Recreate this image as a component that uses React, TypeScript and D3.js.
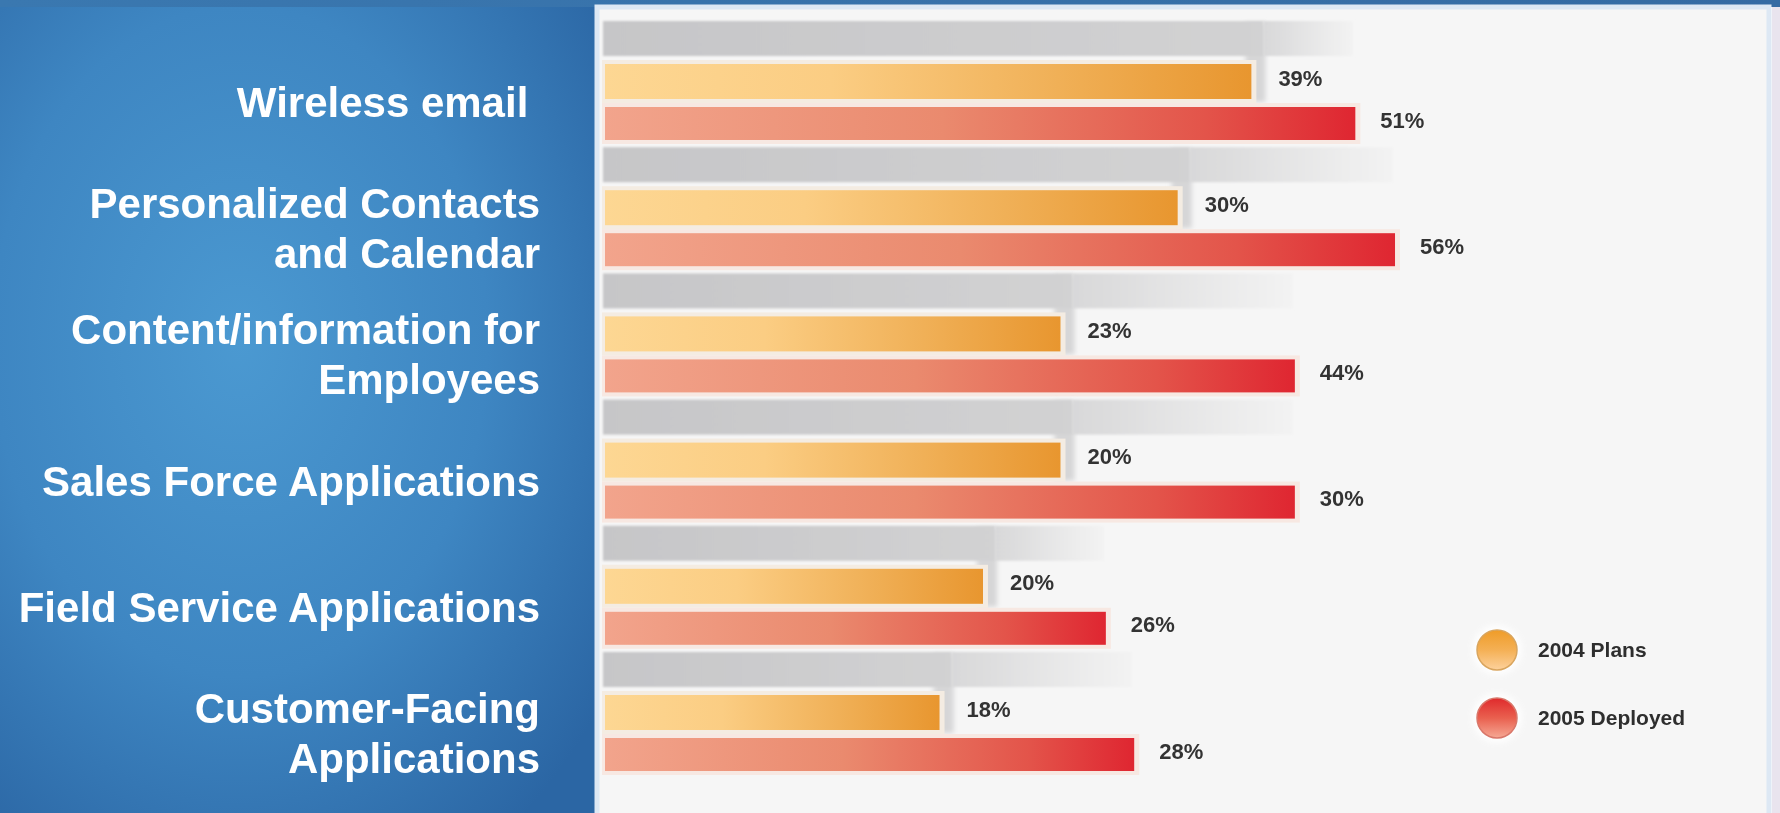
import React from "react";
import * as d3 from "d3";

// ---------- data ----------
const categories = [
  "Wireless email ",
  "Personalized Contacts\nand Calendar",
  "Content/information for\nEmployees",
  "Sales Force Applications",
  "Field Service Applications",
  "Customer-Facing\nApplications",
];
const seriesNames = ["2004 Plans", "2005 Deployed"];
// printed figures
const plans2004Values = [39, 30, 23, 20, 20, 18];
const deployed2005Values = [51, 56, 44, 30, 26, 28];
// bar extents as drawn in the original (its bars are not to the printed scale)
const plans2004Bars = [34.2, 30.3, 24.1, 24.1, 20.0, 17.7];
const deployed2005Bars = [39.7, 41.8, 36.5, 36.5, 26.5, 28.0];

const W = 1780;
const H = 813;
const FONT = "'Liberation Sans', Arial, Helvetica, sans-serif";

export default function App() {
  const x = d3.scaleLinear().domain([0, 60]).range([603, 603 + 60 * 18.9]);
  const y = d3.scalePoint<string>().domain(categories).range([64, 695]);

  const orangeH = 35;
  const gap = 8;
  const redH = 33;
  const labelRight = 540;
  const lineH = 50;

  return (
    <div style={{ position: "fixed", left: 0, top: 0, width: W, height: H }}>
      <svg width={W} height={H} viewBox={`0 0 ${W} ${H}`} style={{ display: "block" }}>
        <defs>
          <radialGradient id="blueBg" cx="40%" cy="42%" r="75%">
            <stop offset="0" stopColor="#4b99d1" />
            <stop offset="0.55" stopColor="#3e86c2" />
            <stop offset="1" stopColor="#2b66a4" />
          </radialGradient>
          <linearGradient id="topStrip" x1="0" x2="1" y1="0" y2="0">
            <stop offset="0" stopColor="#3a78b0" />
            <stop offset="1" stopColor="#356ba3" />
          </linearGradient>
          <linearGradient id="orangeGrad" x1="0" x2="1" y1="0" y2="0">
            <stop offset="0" stopColor="#fdd793" />
            <stop offset="0.35" stopColor="#fbcd83" />
            <stop offset="0.7" stopColor="#f0b057" />
            <stop offset="1" stopColor="#e8962f" />
          </linearGradient>
          <linearGradient id="redGrad" x1="0" x2="1" y1="0" y2="0">
            <stop offset="0" stopColor="#f2a48c" />
            <stop offset="0.45" stopColor="#ea8a6e" />
            <stop offset="0.8" stopColor="#e3544a" />
            <stop offset="1" stopColor="#df2631" />
          </linearGradient>
          <linearGradient id="bandGrad" x1="0" x2="1" y1="0" y2="0">
            <stop offset="0" stopColor="#c6c6c8" />
            <stop offset="1" stopColor="#d2d2d3" />
          </linearGradient>
          <linearGradient id="bandFade" x1="0" x2="1" y1="0" y2="0">
            <stop offset="0" stopColor="#d8d8d9" />
            <stop offset="1" stopColor="#f3f3f3" />
          </linearGradient>
          <linearGradient id="legOrange" x1="0" x2="0" y1="0" y2="1">
            <stop offset="0" stopColor="#ef9c28" />
            <stop offset="0.5" stopColor="#f4b055" />
            <stop offset="1" stopColor="#fdd19c" />
          </linearGradient>
          <linearGradient id="legRed" x1="0" x2="0" y1="0" y2="1">
            <stop offset="0" stopColor="#df2a2c" />
            <stop offset="0.5" stopColor="#e9604f" />
            <stop offset="1" stopColor="#f6a894" />
          </linearGradient>
          <filter id="soft" x="-50%" y="-50%" width="200%" height="200%">
            <feGaussianBlur stdDeviation="2.5" />
          </filter>
          <filter id="softer" x="-10%" y="-50%" width="120%" height="200%">
            <feGaussianBlur stdDeviation="1.2" />
          </filter>
          <filter id="glow" x="-50%" y="-50%" width="200%" height="200%">
            <feGaussianBlur stdDeviation="3" />
          </filter>
        </defs>

        {/* backgrounds */}
        <rect x={0} y={0} width={600} height={H} fill="url(#blueBg)" />
        <rect x={0} y={0} width={W} height={7} fill="url(#topStrip)" />
        <rect x={597} y={7} width={1172} height={H} fill="#f6f6f6" stroke="#dde8f4" strokeWidth={5} />
        <rect x={1772} y={7} width={8} height={H} fill="#e9e4ee" />

        {/* groups */}
        {categories.map((cat, i) => {
          const top = y(cat) as number;
          const oEnd = x(plans2004Bars[i]);
          const rEnd = x(deployed2005Bars[i]);
          const rTop = top + orangeH + gap;
          const x0 = x(0);
          const bandTop = top - 43;
          const bandH = 35;
          return (
            <g key={cat}>
              {/* shelf / shadow */}
              <rect
                x={oEnd - 4}
                y={bandTop + 2}
                width={20}
                height={orangeH + 44}
                fill="#d6d6d7"
                filter="url(#soft)"
              />
              <rect
                x={x0}
                y={bandTop}
                width={oEnd + 14 - x0}
                height={bandH}
                fill="url(#bandGrad)"
                filter="url(#softer)"
              />
              {rEnd > oEnd + 14 && (
                <rect
                  x={oEnd + 14}
                  y={bandTop}
                  width={rEnd - oEnd - 14}
                  height={bandH}
                  fill="url(#bandFade)"
                  filter="url(#softer)"
                />
              )}
              {/* orange bar */}
              <rect x={x0 - 1} y={top - 4} width={oEnd - x0 + 8} height={orangeH + 8} fill="#f4ece2" />
              <rect x={x0 + 2} y={top} width={oEnd - x0} height={orangeH} fill="url(#orangeGrad)" />
              {/* red bar */}
              <rect x={x0 - 1} y={rTop - 4} width={rEnd - x0 + 8} height={redH + 8} fill="#f7e8e2" />
              <rect x={x0 + 2} y={rTop} width={rEnd - x0} height={redH} fill="url(#redGrad)" />
              {/* value labels */}
              <text
                x={oEnd + 29}
                y={top + orangeH / 2 + 4}
                fontFamily={FONT}
                fontWeight="bold"
                fontSize={22}
                fill="#333"
              >
                {plans2004Values[i]}%
              </text>
              <text
                x={rEnd + 27}
                y={rTop + redH / 2 + 4}
                fontFamily={FONT}
                fontWeight="bold"
                fontSize={22}
                fill="#333"
              >
                {deployed2005Values[i]}%
              </text>
              {/* category label */}
              {cat.split("\n").map((line, j, arr) => {
                const center = top + 38;
                const by = center + 15 + (j - (arr.length - 1) / 2) * lineH;
                return (
                  <text
                    key={j}
                    x={labelRight}
                    y={by}
                    textAnchor="end"
                    fontFamily={FONT}
                    fontWeight="bold"
                    fontSize={42}
                    fill="#ffffff"
                    style={{ whiteSpace: "pre" }}
                  >
                    {line}
                  </text>
                );
              })}
            </g>
          );
        })}

        {/* legend */}
        {seriesNames.map((name, i) => {
          const cy = 650 + i * 68;
          return (
            <g key={name}>
              <circle cx={1497} cy={cy} r={25} fill="#ffffff" opacity={0.9} filter="url(#glow)" />
              <circle
                cx={1497}
                cy={cy}
                r={20}
                fill={i === 0 ? "url(#legOrange)" : "url(#legRed)"}
                stroke={i === 0 ? "#d9a55e" : "#d9776a"}
                strokeWidth={1.5}
              />
              <text x={1538} y={cy + 7} fontFamily={FONT} fontWeight="bold" fontSize={21} fill="#2e2e2e">
                {name}
              </text>
            </g>
          );
        })}
      </svg>
    </div>
  );
}
